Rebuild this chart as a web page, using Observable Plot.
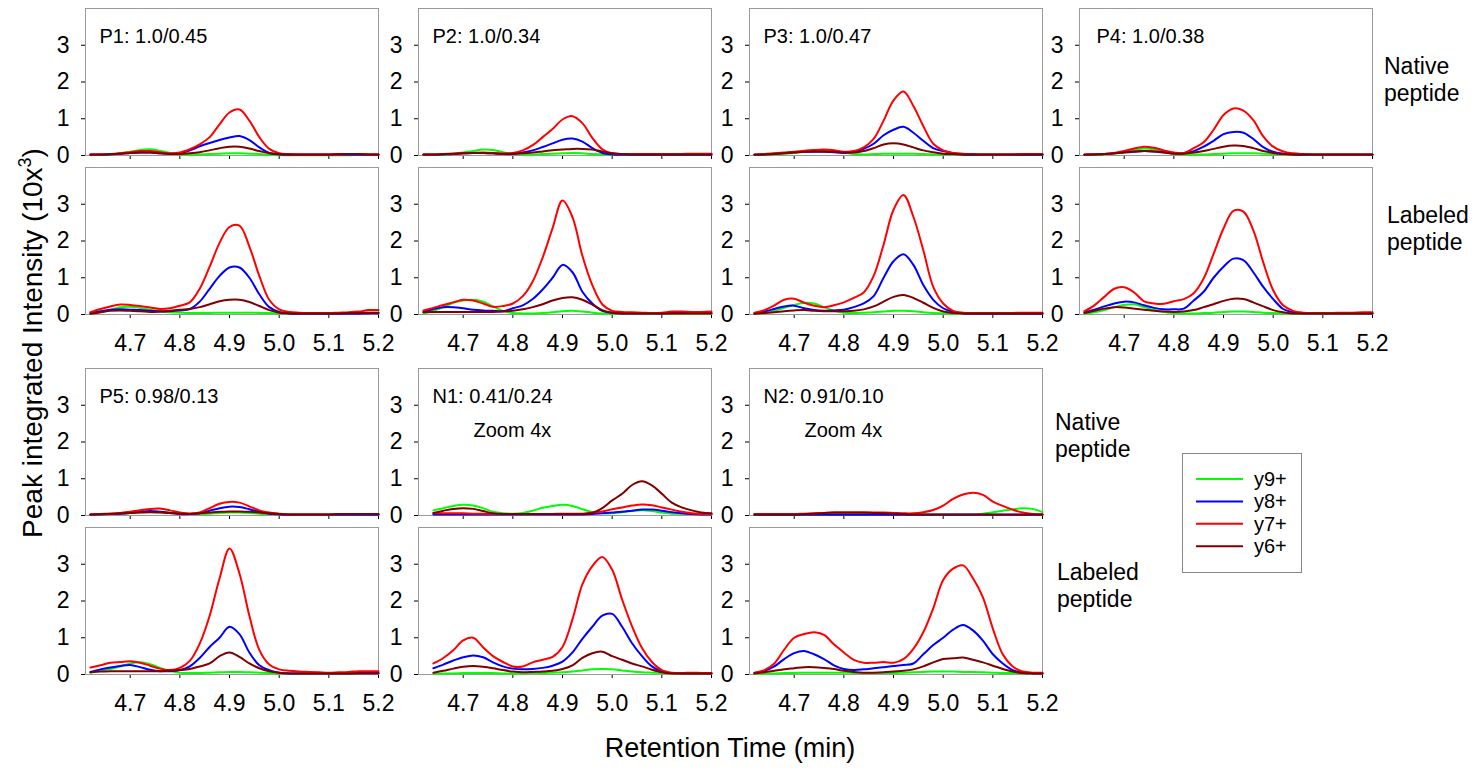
<!DOCTYPE html>
<html><head><meta charset="utf-8">
<script src="https://cdn.jsdelivr.net/npm/d3@7"></script>
<script src="https://cdn.jsdelivr.net/npm/@observablehq/plot@0.6"></script>
<style>
body{margin:0;background:#fff;}
#chart{position:relative;width:1479px;height:770px;font-family:"Liberation Sans",Arial,sans-serif;overflow:hidden;}
#chart svg{position:absolute;}
</style></head><body><div id="chart"></div>
<script>
// ---------- data ----------
const times = [4.62,4.64,4.66,4.68,4.70,4.72,4.74,4.76,4.78,4.80,4.82,4.84,4.86,4.88,4.90,4.92,4.94,4.96,4.98,5.00,5.02,5.04,5.06,5.08,5.10,5.12,5.14,5.16,5.18,5.20];
const seriesNames = ["y9+","y8+","y7+","y6+"];
const seriesColors = ["#00ff00","#0000ff","#ff0000","#800000"];
const xTicks = [4.7,4.8,4.9,5.0,5.1,5.2];
const yTicks = [0,1,2,3];
const panelLabels = ["P1: 1.0/0.45","P2: 1.0/0.34","P3: 1.0/0.47","P4: 1.0/0.38","P5: 0.98/0.13","N1: 0.41/0.24","N2: 0.91/0.10"];
const zoomNote = "Zoom 4x";
const rowLabels = ["Native\npeptide","Labeled\npeptide"];
const yTitle = "Peak integrated Intensity (10x";
const yTitleSup = "3";
const xTitle = "Retention Time (min)";

// P1
const p1_nat_y9 = [0.01,0.02,0.03,0.06,0.10,0.15,0.17,0.13,0.07,0.03,0.02,0.03,0.04,0.05,0.06,0.06,0.05,0.04,0.02,0.01,0.01,0.01,0.01,0.01,0.01,0.01,0.01,0.02,0.02,0.02];
const p1_nat_y8 = [0.02,0.02,0.03,0.05,0.07,0.08,0.08,0.06,0.04,0.06,0.14,0.25,0.34,0.42,0.49,0.53,0.42,0.22,0.07,0.03,0.02,0.02,0.02,0.02,0.02,0.02,0.02,0.02,0.02,0.02];
const p1_nat_y7 = [0.03,0.03,0.04,0.06,0.09,0.12,0.12,0.09,0.06,0.08,0.17,0.30,0.50,0.85,1.17,1.25,0.95,0.50,0.18,0.06,0.04,0.03,0.03,0.03,0.03,0.03,0.04,0.04,0.03,0.03];
const p1_nat_y6 = [0.03,0.03,0.04,0.05,0.07,0.08,0.08,0.06,0.04,0.04,0.06,0.09,0.14,0.20,0.24,0.24,0.19,0.12,0.06,0.04,0.03,0.03,0.03,0.03,0.03,0.04,0.04,0.04,0.03,0.03];
const p1_lab_y9 = [0.02,0.06,0.12,0.20,0.21,0.18,0.13,0.09,0.06,0.05,0.04,0.04,0.04,0.05,0.05,0.05,0.05,0.04,0.04,0.03,0.03,0.03,0.03,0.03,0.03,0.03,0.04,0.04,0.05,0.05];
const p1_lab_y8 = [0.04,0.09,0.13,0.14,0.13,0.12,0.10,0.08,0.09,0.11,0.15,0.35,0.70,1.05,1.28,1.28,1.00,0.55,0.20,0.07,0.03,0.02,0.02,0.02,0.02,0.02,0.02,0.02,0.03,0.03];
const p1_lab_y7 = [0.06,0.15,0.22,0.27,0.26,0.23,0.19,0.15,0.17,0.24,0.33,0.70,1.30,1.95,2.38,2.42,1.85,1.05,0.40,0.14,0.07,0.05,0.04,0.04,0.04,0.05,0.06,0.08,0.12,0.12];
const p1_lab_y6 = [0.02,0.06,0.10,0.11,0.10,0.09,0.07,0.08,0.10,0.13,0.15,0.20,0.28,0.36,0.40,0.40,0.34,0.23,0.12,0.05,0.03,0.03,0.03,0.03,0.03,0.03,0.04,0.04,0.05,0.05];
// P2
const p2_nat_y9 = [0.02,0.02,0.03,0.05,0.08,0.12,0.16,0.15,0.09,0.04,0.03,0.03,0.04,0.05,0.06,0.07,0.06,0.04,0.03,0.02,0.02,0.02,0.02,0.02,0.02,0.02,0.02,0.02,0.02,0.02];
const p2_nat_y8 = [0.02,0.02,0.03,0.04,0.06,0.07,0.07,0.06,0.04,0.04,0.08,0.14,0.23,0.33,0.43,0.46,0.38,0.20,0.07,0.03,0.02,0.02,0.02,0.02,0.02,0.02,0.02,0.02,0.02,0.02];
const p2_nat_y7 = [0.03,0.03,0.04,0.05,0.06,0.07,0.08,0.07,0.05,0.07,0.14,0.28,0.50,0.72,0.98,1.07,0.88,0.48,0.17,0.06,0.04,0.04,0.04,0.04,0.04,0.04,0.04,0.05,0.05,0.05];
const p2_nat_y6 = [0.03,0.03,0.04,0.05,0.06,0.07,0.07,0.06,0.05,0.05,0.06,0.08,0.11,0.14,0.16,0.18,0.18,0.16,0.11,0.06,0.04,0.03,0.03,0.03,0.03,0.03,0.03,0.03,0.03,0.03];
const p2_lab_y9 = [0.03,0.10,0.20,0.32,0.38,0.40,0.35,0.22,0.10,0.04,0.03,0.03,0.04,0.06,0.09,0.10,0.08,0.05,0.03,0.02,0.02,0.02,0.02,0.02,0.02,0.02,0.02,0.02,0.02,0.02];
const p2_lab_y8 = [0.07,0.15,0.20,0.20,0.17,0.13,0.11,0.10,0.09,0.17,0.25,0.42,0.68,1.00,1.35,1.15,0.62,0.30,0.10,0.05,0.03,0.03,0.03,0.03,0.03,0.04,0.04,0.04,0.04,0.04];
const p2_lab_y7 = [0.11,0.18,0.26,0.33,0.40,0.38,0.30,0.21,0.23,0.30,0.50,0.90,1.55,2.35,3.10,2.65,1.60,0.80,0.28,0.10,0.07,0.06,0.05,0.04,0.05,0.08,0.08,0.07,0.07,0.08];
const p2_lab_y6 = [0.06,0.07,0.07,0.07,0.07,0.07,0.07,0.07,0.08,0.10,0.14,0.20,0.28,0.38,0.45,0.47,0.40,0.27,0.12,0.05,0.03,0.03,0.03,0.03,0.03,0.03,0.03,0.03,0.03,0.03];
// P3
const p3_nat_y9 = [0.02,0.02,0.03,0.05,0.07,0.10,0.13,0.15,0.13,0.08,0.04,0.03,0.04,0.05,0.05,0.05,0.05,0.04,0.03,0.02,0.02,0.02,0.02,0.02,0.02,0.02,0.02,0.02,0.02,0.02];
const p3_nat_y8 = [0.02,0.03,0.05,0.07,0.09,0.10,0.10,0.10,0.09,0.07,0.10,0.18,0.32,0.55,0.70,0.78,0.62,0.40,0.20,0.12,0.06,0.03,0.02,0.02,0.02,0.02,0.02,0.02,0.02,0.02];
const p3_nat_y7 = [0.03,0.04,0.06,0.08,0.10,0.13,0.15,0.16,0.14,0.10,0.12,0.22,0.45,0.95,1.50,1.74,1.35,0.80,0.32,0.14,0.07,0.05,0.04,0.03,0.03,0.03,0.03,0.04,0.04,0.04];
const p3_nat_y6 = [0.02,0.03,0.04,0.06,0.08,0.10,0.11,0.11,0.10,0.08,0.08,0.12,0.20,0.30,0.33,0.30,0.22,0.14,0.09,0.05,0.04,0.03,0.03,0.03,0.03,0.03,0.03,0.03,0.03,0.03];
const p3_lab_y9 = [0.02,0.04,0.10,0.18,0.26,0.32,0.30,0.20,0.10,0.05,0.04,0.05,0.06,0.08,0.10,0.10,0.09,0.06,0.04,0.03,0.02,0.02,0.02,0.02,0.02,0.02,0.02,0.02,0.02,0.02];
const p3_lab_y8 = [0.03,0.08,0.15,0.22,0.24,0.17,0.12,0.10,0.11,0.13,0.20,0.30,0.50,1.00,1.45,1.64,1.35,0.80,0.40,0.17,0.07,0.03,0.02,0.02,0.02,0.02,0.02,0.02,0.02,0.02];
const p3_lab_y7 = [0.05,0.12,0.25,0.40,0.43,0.32,0.24,0.20,0.25,0.33,0.45,0.60,1.05,1.90,2.85,3.25,2.66,1.75,0.75,0.30,0.10,0.05,0.04,0.04,0.04,0.04,0.04,0.05,0.05,0.05];
const p3_lab_y6 = [0.02,0.04,0.06,0.09,0.11,0.12,0.10,0.09,0.09,0.09,0.10,0.14,0.22,0.35,0.48,0.53,0.45,0.32,0.18,0.08,0.04,0.03,0.03,0.03,0.03,0.03,0.03,0.03,0.03,0.03];
// P4
const p4_nat_y9 = [0.02,0.02,0.03,0.05,0.09,0.14,0.19,0.17,0.11,0.05,0.03,0.03,0.03,0.04,0.05,0.06,0.06,0.06,0.05,0.04,0.03,0.02,0.02,0.02,0.02,0.02,0.02,0.02,0.02,0.02];
const p4_nat_y8 = [0.02,0.03,0.04,0.06,0.09,0.11,0.12,0.11,0.09,0.06,0.06,0.12,0.24,0.40,0.58,0.64,0.62,0.45,0.23,0.10,0.05,0.03,0.02,0.02,0.02,0.02,0.02,0.02,0.02,0.02];
const p4_nat_y7 = [0.03,0.03,0.04,0.07,0.12,0.19,0.24,0.21,0.14,0.08,0.07,0.20,0.36,0.70,1.10,1.28,1.22,0.96,0.52,0.24,0.11,0.06,0.04,0.03,0.03,0.03,0.03,0.03,0.03,0.03];
const p4_nat_y6 = [0.02,0.03,0.04,0.06,0.08,0.10,0.12,0.11,0.08,0.05,0.05,0.08,0.12,0.18,0.24,0.27,0.26,0.20,0.12,0.07,0.04,0.03,0.03,0.03,0.03,0.03,0.03,0.03,0.03,0.03];
const p4_lab_y9 = [0.02,0.06,0.12,0.20,0.26,0.28,0.20,0.12,0.07,0.04,0.03,0.03,0.04,0.05,0.07,0.08,0.08,0.07,0.05,0.04,0.03,0.02,0.02,0.02,0.02,0.02,0.02,0.02,0.02,0.02];
const p4_lab_y8 = [0.06,0.13,0.22,0.30,0.35,0.33,0.25,0.18,0.14,0.14,0.16,0.38,0.62,1.00,1.30,1.52,1.48,1.15,0.75,0.42,0.15,0.06,0.03,0.03,0.03,0.03,0.03,0.03,0.03,0.03];
const p4_lab_y7 = [0.09,0.25,0.48,0.70,0.74,0.60,0.36,0.30,0.29,0.36,0.42,0.58,0.98,1.65,2.34,2.82,2.80,2.29,1.42,0.66,0.25,0.10,0.05,0.04,0.04,0.04,0.05,0.05,0.06,0.06];
const p4_lab_y6 = [0.04,0.10,0.16,0.20,0.19,0.16,0.13,0.10,0.08,0.07,0.08,0.12,0.20,0.28,0.37,0.43,0.42,0.33,0.22,0.12,0.06,0.03,0.03,0.03,0.03,0.03,0.03,0.03,0.03,0.03];
// P5
const p5_nat_y9 = [0.02,0.03,0.04,0.05,0.07,0.09,0.10,0.10,0.08,0.05,0.04,0.04,0.05,0.07,0.08,0.08,0.07,0.05,0.04,0.03,0.02,0.02,0.02,0.02,0.02,0.02,0.02,0.02,0.02,0.02];
const p5_nat_y8 = [0.02,0.03,0.04,0.05,0.07,0.10,0.12,0.10,0.07,0.04,0.04,0.06,0.13,0.20,0.24,0.23,0.17,0.10,0.05,0.03,0.02,0.02,0.02,0.02,0.02,0.02,0.02,0.02,0.02,0.02];
const p5_nat_y7 = [0.03,0.04,0.05,0.07,0.10,0.14,0.18,0.19,0.14,0.08,0.05,0.08,0.20,0.32,0.37,0.35,0.25,0.14,0.08,0.05,0.03,0.03,0.03,0.03,0.03,0.04,0.04,0.04,0.04,0.04];
const p5_nat_y6 = [0.03,0.04,0.05,0.06,0.07,0.08,0.09,0.08,0.07,0.05,0.05,0.06,0.08,0.10,0.11,0.11,0.10,0.08,0.06,0.04,0.03,0.03,0.03,0.03,0.03,0.04,0.04,0.04,0.04,0.04];
const p5_lab_y9 = [0.05,0.10,0.15,0.22,0.30,0.33,0.28,0.18,0.10,0.05,0.04,0.04,0.05,0.06,0.07,0.07,0.06,0.05,0.04,0.03,0.03,0.03,0.03,0.03,0.03,0.03,0.03,0.03,0.04,0.04];
const p5_lab_y8 = [0.07,0.14,0.19,0.23,0.26,0.20,0.13,0.09,0.09,0.12,0.22,0.45,0.75,1.00,1.30,1.10,0.60,0.25,0.12,0.05,0.03,0.03,0.03,0.03,0.03,0.03,0.03,0.04,0.04,0.04];
const p5_lab_y7 = [0.19,0.25,0.32,0.34,0.36,0.32,0.24,0.16,0.12,0.18,0.37,0.84,1.60,2.62,3.43,2.75,1.60,0.67,0.27,0.14,0.10,0.08,0.07,0.06,0.05,0.06,0.07,0.09,0.09,0.09];
const p5_lab_y6 = [0.06,0.08,0.09,0.09,0.09,0.09,0.09,0.09,0.10,0.12,0.15,0.22,0.30,0.50,0.60,0.48,0.30,0.17,0.09,0.05,0.03,0.03,0.03,0.03,0.03,0.03,0.03,0.03,0.03,0.03];
// N1
const n1_nat_y9 = [null,0.14,0.20,0.26,0.29,0.27,0.20,0.10,0.06,0.05,0.07,0.13,0.21,0.26,0.29,0.26,0.17,0.09,0.06,0.06,0.09,0.12,0.14,0.12,0.08,0.05,0.05,0.05,0.05,0.05];
const n1_nat_y8 = [null,0.03,0.03,0.03,0.03,0.03,0.03,0.03,0.03,0.03,0.03,0.03,0.03,0.03,0.03,0.03,0.03,0.04,0.06,0.08,0.10,0.13,0.16,0.16,0.13,0.09,0.06,0.04,0.03,0.03];
const n1_nat_y7 = [null,0.06,0.06,0.06,0.06,0.05,0.05,0.04,0.04,0.04,0.04,0.04,0.04,0.04,0.05,0.05,0.05,0.08,0.11,0.17,0.22,0.27,0.30,0.28,0.22,0.16,0.10,0.06,0.04,0.04];
const n1_nat_y6 = [null,0.07,0.13,0.18,0.20,0.18,0.12,0.06,0.04,0.04,0.04,0.04,0.04,0.04,0.04,0.04,0.04,0.07,0.20,0.41,0.59,0.83,0.93,0.82,0.59,0.35,0.22,0.14,0.08,0.06];
const n1_lab_y9 = [null,0.02,0.03,0.03,0.04,0.04,0.04,0.04,0.03,0.03,0.03,0.04,0.04,0.05,0.06,0.08,0.11,0.14,0.15,0.14,0.11,0.08,0.06,0.05,0.04,0.03,0.03,0.03,0.03,0.03];
const n1_lab_y8 = [null,0.17,0.27,0.38,0.47,0.52,0.47,0.33,0.22,0.16,0.14,0.15,0.18,0.24,0.35,0.60,0.97,1.30,1.60,1.65,1.30,0.85,0.50,0.22,0.08,0.04,0.03,0.03,0.03,0.03];
const n1_lab_y7 = [null,0.30,0.45,0.66,0.93,1.00,0.74,0.50,0.34,0.22,0.22,0.33,0.40,0.48,0.75,1.50,2.45,2.95,3.20,2.85,2.04,1.31,0.72,0.34,0.12,0.05,0.04,0.05,0.04,0.04];
const n1_lab_y6 = [null,0.05,0.10,0.16,0.21,0.23,0.21,0.17,0.12,0.08,0.06,0.07,0.08,0.10,0.15,0.25,0.45,0.58,0.62,0.50,0.40,0.30,0.22,0.13,0.06,0.03,0.03,0.03,0.03,0.03];
// N2
const n2_nat_y9 = [0.02,0.02,0.02,0.02,0.02,0.02,0.02,0.02,0.04,0.06,0.07,0.07,0.06,0.04,0.03,0.03,0.03,0.03,0.03,0.03,0.03,0.03,0.03,0.05,0.09,0.13,0.17,0.20,0.18,0.09];
const n2_nat_y8 = [0.02,0.02,0.02,0.02,0.02,0.02,0.02,0.02,0.02,0.02,0.02,0.02,0.02,0.02,0.02,0.02,0.02,0.02,0.02,0.02,0.02,0.02,0.02,0.02,0.02,0.02,0.02,0.02,0.02,0.02];
const n2_nat_y7 = [0.04,0.04,0.04,0.04,0.04,0.05,0.06,0.07,0.08,0.08,0.08,0.08,0.08,0.08,0.07,0.06,0.06,0.09,0.15,0.27,0.45,0.57,0.62,0.56,0.38,0.26,0.16,0.08,0.04,0.03];
const n2_nat_y6 = [0.03,0.03,0.03,0.03,0.03,0.04,0.05,0.07,0.08,0.08,0.08,0.08,0.07,0.06,0.05,0.04,0.03,0.03,0.03,0.03,0.03,0.03,0.03,0.03,0.03,0.03,0.03,0.03,0.03,0.03];
const n2_lab_y9 = [0.02,0.03,0.03,0.04,0.04,0.05,0.05,0.05,0.05,0.05,0.04,0.04,0.04,0.04,0.04,0.05,0.06,0.07,0.08,0.08,0.08,0.07,0.07,0.06,0.05,0.04,0.04,0.03,0.03,0.03];
const n2_lab_y8 = [0.04,0.10,0.22,0.42,0.58,0.64,0.55,0.42,0.25,0.15,0.12,0.14,0.17,0.20,0.23,0.26,0.30,0.55,0.80,1.00,1.22,1.35,1.20,0.92,0.55,0.30,0.12,0.05,0.03,0.03];
const n2_lab_y7 = [0.05,0.12,0.30,0.68,1.00,1.10,1.15,1.08,0.82,0.60,0.40,0.32,0.32,0.34,0.32,0.42,0.70,1.15,1.80,2.57,2.88,2.97,2.62,2.10,1.25,0.55,0.22,0.08,0.05,0.05];
const n2_lab_y6 = [0.03,0.06,0.10,0.14,0.17,0.20,0.20,0.18,0.15,0.10,0.07,0.05,0.05,0.06,0.08,0.10,0.14,0.22,0.33,0.42,0.44,0.46,0.40,0.33,0.24,0.15,0.08,0.04,0.03,0.03];

// ---------- layout ----------
const colLefts = [85, 418, 749, 1079];
const rowTops = [8, 167, 368, 527];
const FW = 293, FH = 147;
const ML = 50, MR = 4, MT = 4;

const panels = [
  {label: panelLabels[0], col: 0, row: 0, s: [p1_nat_y9,p1_nat_y8,p1_nat_y7,p1_nat_y6]},
  {col: 0, row: 1, s: [p1_lab_y9,p1_lab_y8,p1_lab_y7,p1_lab_y6]},
  {label: panelLabels[1], col: 1, row: 0, s: [p2_nat_y9,p2_nat_y8,p2_nat_y7,p2_nat_y6]},
  {col: 1, row: 1, s: [p2_lab_y9,p2_lab_y8,p2_lab_y7,p2_lab_y6]},
  {label: panelLabels[2], col: 2, row: 0, s: [p3_nat_y9,p3_nat_y8,p3_nat_y7,p3_nat_y6]},
  {col: 2, row: 1, s: [p3_lab_y9,p3_lab_y8,p3_lab_y7,p3_lab_y6]},
  {label: panelLabels[3], col: 3, row: 0, dx: 17, s: [p4_nat_y9,p4_nat_y8,p4_nat_y7,p4_nat_y6]},
  {col: 3, row: 1, s: [p4_lab_y9,p4_lab_y8,p4_lab_y7,p4_lab_y6]},
  {label: panelLabels[4], col: 0, row: 2, s: [p5_nat_y9,p5_nat_y8,p5_nat_y7,p5_nat_y6]},
  {col: 0, row: 3, s: [p5_lab_y9,p5_lab_y8,p5_lab_y7,p5_lab_y6]},
  {label: panelLabels[5], zoom: true, col: 1, row: 2, s: [n1_nat_y9,n1_nat_y8,n1_nat_y7,n1_nat_y6]},
  {col: 1, row: 3, s: [n1_lab_y9,n1_lab_y8,n1_lab_y7,n1_lab_y6]},
  {label: panelLabels[6], zoom: true, col: 2, row: 2, s: [n2_nat_y9,n2_nat_y8,n2_nat_y7,n2_nat_y6]},
  {col: 2, row: 3, s: [n2_lab_y9,n2_lab_y8,n2_lab_y7,n2_lab_y6]}
];

const chart = document.getElementById("chart");
const fmtX = d3.format(".1f");
const fmtY = d3.format("d");

for (const p of panels) {
  const bottom = p.row % 2 === 1;
  const MB = bottom ? 48 : 8;
  const rows = [];
  p.s.forEach((vals, si) => vals.forEach((v, i) => {
    if (v != null) rows.push({t: times[i], v, s: seriesNames[si]});
  }));
  const marks = [
    Plot.frame({stroke: "#9a9a9a"}),
    Plot.line(rows, {x: "t", y: "v", z: "s", stroke: "s", strokeWidth: 2, curve: "catmull-rom"})
  ];
  if (p.label) marks.push(Plot.text([p.label], {text: d => d, frameAnchor: "top-left", textAnchor: "start", dx: p.dx ?? 14, dy: 20, fontSize: 20, fill: "black"}));
  if (p.zoom) marks.push(Plot.text([zoomNote], {text: d => d, frameAnchor: "top-left", textAnchor: "start", dx: 55, dy: 54, fontSize: 20, fill: "black"}));
  const svg = Plot.plot({
    width: ML + FW + MR, height: MT + FH + MB,
    marginLeft: ML, marginRight: MR, marginTop: MT, marginBottom: MB,
    x: {domain: [4.61, 5.2], ticks: xTicks, tickSize: 4, tickPadding: 16, tickFormat: bottom ? fmtX : () => "", label: null},
    y: {domain: [0, 4], ticks: yTicks, tickSize: 4, tickPadding: 12, tickFormat: fmtY, label: null},
    color: {domain: seriesNames, range: seriesColors},
    style: {fontFamily: "'Liberation Sans', Arial, sans-serif", fontSize: "23px", background: "none", overflow: "visible", color: "black", maxWidth: "none"},
    marks
  });
  svg.style.position = "absolute";
  svg.style.left = (colLefts[p.col] - ML) + "px";
  svg.style.top = (rowTops[p.row] - MT) + "px";
  chart.appendChild(svg);
}

// ---------- overlay: titles, row labels, legend ----------
const ov = d3.select(chart).append("svg")
  .attr("width", 1479).attr("height", 770)
  .style("left", "0px").style("top", "0px").style("pointer-events", "none")
  .attr("font-family", "'Liberation Sans', Arial, sans-serif");

const yt = ov.append("text").attr("transform", "translate(42,343) rotate(-90)")
  .attr("text-anchor", "middle").attr("font-size", 28).attr("fill", "black");
yt.append("tspan").text(yTitle);
yt.append("tspan").attr("font-size", 18).attr("dy", -11).text(yTitleSup);
yt.append("tspan").attr("dy", 11).text(")");

ov.append("text").attr("x", 730).attr("y", 757).attr("text-anchor", "middle")
  .attr("font-size", 27).attr("fill", "black").text(xTitle);

const rowLabelPos = [
  {text: rowLabels[0], x: 1384, y: 74},
  {text: rowLabels[1], x: 1387, y: 223},
  {text: rowLabels[0], x: 1055, y: 430},
  {text: rowLabels[1], x: 1057, y: 580}
];
for (const r of rowLabelPos) {
  const t = ov.append("text").attr("font-size", 23).attr("fill", "black");
  r.text.split("\n").forEach((line, i) => t.append("tspan").attr("x", r.x).attr("y", r.y + i * 26.5).text(line));
}

const lg = ov.append("g");
lg.append("rect").attr("x", 1182.5).attr("y", 453.5).attr("width", 119).attr("height", 119)
  .attr("fill", "white").attr("stroke", "#888").attr("stroke-width", 1);
seriesNames.forEach((name, i) => {
  const y = 479 + i * 22.4;
  lg.append("line").attr("x1", 1196).attr("x2", 1243).attr("y1", y).attr("y2", y)
    .attr("stroke", seriesColors[i]).attr("stroke-width", 2);
  lg.append("text").attr("x", 1254).attr("y", y).attr("dy", "0.35em")
    .attr("font-size", 20).attr("fill", "black").text(name);
});
</script></body></html>
